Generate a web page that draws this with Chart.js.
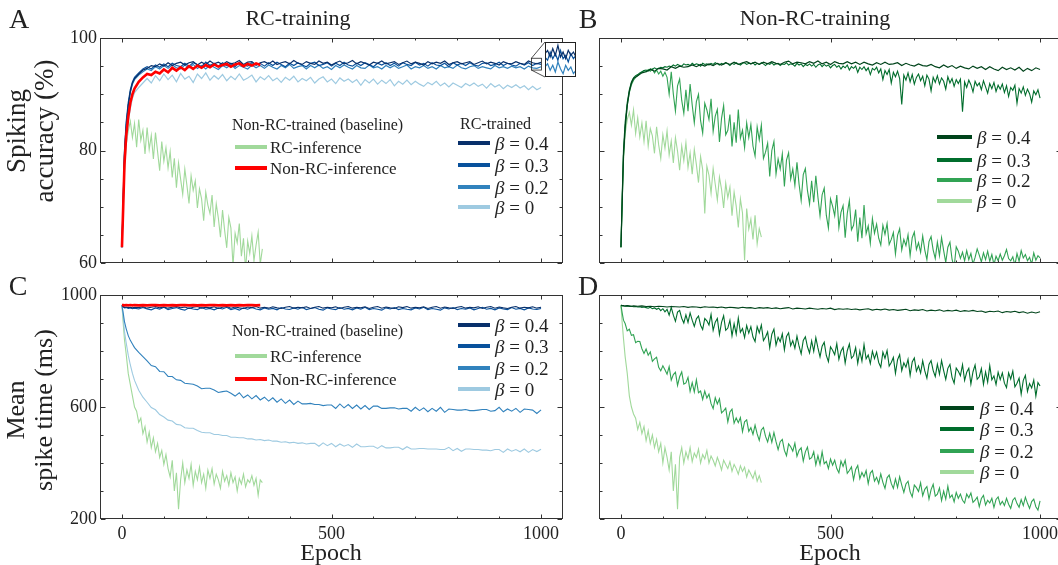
<!DOCTYPE html>
<html>
<head>
<meta charset="utf-8">
<script src="https://cdn.jsdelivr.net/npm/chart.js"></script>
<style>
  body { margin: 0; width: 1058px; height: 565px; overflow: hidden; position: relative; background: #fff;
         font-family: 'Liberation Serif', serif; color: #222; }
  canvas { position: absolute; }
  .t { position: absolute; white-space: nowrap; line-height: 1; }
  .sw { position: absolute; height: 4px; }
</style>
</head>
<body>
<canvas id="cA" width="590" height="280" style="left:0;top:0"></canvas>
<canvas id="cB" width="480" height="280" style="left:590px;top:0"></canvas>
<canvas id="cC" width="590" height="285" style="left:0;top:280px"></canvas>
<canvas id="cD" width="480" height="285" style="left:590px;top:280px"></canvas>
<canvas id="cInset" width="31" height="35" style="left:545px;top:42px;background:#fff"></canvas>
<script>
// coarse epoch grid (smooth curves; short curves stop at 330)
const epochs = [0, 3, 6, 10, 15, 20, 25, 30,
  40, 50, 60, 70, 80, 90, 100, 110, 120, 130,
  140, 150, 160, 170, 180, 190, 200, 210, 220, 230,
  240, 250, 260, 270, 280, 290, 300, 310, 320, 330,
  340, 350, 360, 370, 380, 390, 400, 410, 420, 430,
  440, 450, 460, 470, 480, 490, 500, 510, 520, 530,
  540, 550, 560, 570, 580, 590, 600, 610, 620, 630,
  640, 650, 660, 670, 680, 690, 700, 710, 720, 730,
  740, 750, 760, 770, 780, 790, 800, 810, 820, 830,
  840, 850, 860, 870, 880, 890, 900, 910, 920, 930,
  940, 950, 960, 970, 980, 990, 1000];

// fine epoch grid (noisy curves; short curves stop at 335)
const fineEpochs = [0, 3, 6,
  10, 15, 20, 25, 30, 35, 40, 45, 50, 55, 60, 65, 70, 75, 80, 85, 90, 95, 100, 105,
  110, 115, 120, 125, 130, 135, 140, 145, 150, 155, 160, 165, 170, 175, 180, 185, 190, 195, 200, 205,
  210, 215, 220, 225, 230, 235, 240, 245, 250, 255, 260, 265, 270, 275, 280, 285, 290, 295, 300, 305,
  310, 315, 320, 325, 330, 335, 340, 345, 350, 355, 360, 365, 370, 375, 380, 385, 390, 395, 400, 405,
  410, 415, 420, 425, 430, 435, 440, 445, 450, 455, 460, 465, 470, 475, 480, 485, 490, 495, 500, 505,
  510, 515, 520, 525, 530, 535, 540, 545, 550, 555, 560, 565, 570, 575, 580, 585, 590, 595, 600, 605,
  610, 615, 620, 625, 630, 635, 640, 645, 650, 655, 660, 665, 670, 675, 680, 685, 690, 695, 700, 705,
  710, 715, 720, 725, 730, 735, 740, 745, 750, 755, 760, 765, 770, 775, 780, 785, 790, 795, 800, 805,
  810, 815, 820, 825, 830, 835, 840, 845, 850, 855, 860, 865, 870, 875, 880, 885, 890, 895, 900, 905,
  910, 915, 920, 925, 930, 935, 940, 945, 950, 955, 960, 965, 970, 975, 980, 985, 990, 995, 1000];

const xMajorTicks = [0, 500, 1000];
const xMinorTicks = [0, 100, 200, 300, 400, 500, 600, 700, 800, 900, 1000];
const accMajorTicks = [60, 80, 100];
const accMinorTicks = [60, 65, 70, 75, 80, 85, 90, 95, 100];
const stMajorTicks = [200, 600, 1000];
const stMinorTicks = [200, 300, 400, 500, 600, 700, 800, 900, 1000];

// ---- A: spiking accuracy, RC-training (coarse grid) ----
const accRC04 = [62.8, 71, 79, 84, 88, 90.5, 92, 92.8,
  93.6, 94.3, 94.6, 95.1, 94.9, 95.4, 95.0, 95.6, 95.1, 95.5,
  95.7, 95.2, 95.6, 95.8, 95.2, 95.7, 95.3, 95.9, 95.4, 95.7,
  95.3, 95.8, 95.4, 95.6, 96.0, 95.3, 95.7, 95.8, 95.2, 95.6,
  95.8, 95.4, 95.9, 95.3, 95.6, 95.8, 95.4, 96.0, 95.5, 95.3,
  95.8, 95.5, 95.3, 95.9, 95.5, 95.7, 95.2, 95.6, 95.9, 95.4,
  95.6, 96.0, 95.4, 95.8, 95.5, 95.2, 95.7, 95.5, 95.9, 95.4,
  95.6, 95.8, 95.3, 95.6, 95.9, 95.4, 95.7, 95.5, 95.2, 95.8,
  95.4, 95.7, 95.5, 95.9, 95.3, 95.6, 95.8, 95.4, 95.6, 95.8,
  95.3, 95.6, 95.9, 95.4, 95.7, 95.5, 95.2, 95.8, 95.5, 95.4,
  95.8, 95.5, 95.3, 95.9, 95.6, 95.4, 95.7];
const accRC03 = [62.8, 72, 80, 85, 88.5, 90.8, 92.2, 93.0,
  93.8, 94.5, 94.9, 94.5, 95.2, 94.8, 95.4, 94.9, 95.5, 95.1,
  94.9, 95.5, 95.0, 95.6, 95.3, 94.9, 95.7, 95.1, 95.5, 95.0,
  95.6, 95.1, 95.5, 94.9, 95.7, 95.2, 95.0, 95.6, 95.2, 95.5,
  95.0, 95.6, 95.1, 95.7, 95.3, 94.9, 95.5, 95.1, 95.6, 95.2,
  94.9, 95.5, 95.7, 95.1, 95.3, 95.6, 95.0, 95.5, 95.1, 95.7,
  95.2, 95.0, 95.5, 95.1, 95.6, 95.3, 94.9, 95.5, 95.2, 95.6,
  95.1, 95.5, 95.0, 95.6, 95.3, 95.1, 95.7, 95.2, 95.5, 95.0,
  95.6, 95.2, 95.1, 95.5, 94.9, 95.6, 95.2, 95.5, 95.1, 95.6,
  95.2, 95.0, 95.5, 95.6, 95.1, 95.3, 95.7, 95.1, 95.5, 95.2,
  95.0, 95.5, 95.2, 95.6, 95.1, 95.5, 95.3];
const accRC02 = [62.8, 71, 79.5, 84.5, 88, 90.3, 91.8, 92.6,
  93.4, 94.0, 94.5, 94.2, 94.9, 94.5, 95.1, 94.6, 95.2, 94.7,
  94.5, 95.2, 94.7, 95.3, 94.6, 95.1, 94.5, 95.2, 94.8, 94.4,
  95.1, 94.7, 95.3, 94.6, 95.1, 94.8, 94.5, 95.2, 94.7, 95.1,
  94.6, 95.2, 94.8, 94.5, 95.1, 94.7, 95.3, 94.6, 94.9, 95.1,
  94.5, 95.1, 94.7, 95.2, 94.6, 94.9, 94.4, 95.1, 94.7, 95.2,
  94.8, 94.5, 95.1, 94.7, 94.6, 95.2, 94.7, 94.9, 94.5, 95.1,
  94.7, 95.1, 94.6, 94.9, 95.2, 94.5, 94.9, 94.7, 95.1, 94.6,
  94.9, 94.5, 95.1, 94.7, 94.9, 94.6, 95.2, 94.7, 94.5, 94.9,
  95.1, 94.6, 94.9, 94.7, 94.5, 95.1, 94.7, 94.9, 94.6, 95.0,
  94.7, 94.9, 94.5, 95.0, 94.7, 94.6, 94.9];
const accRC00 = [62.8, 70, 77, 81, 85, 87.5, 89.3, 90.3,
  91.2, 92.0, 92.8, 92.0, 93.3, 92.4, 93.6, 92.6, 93.4, 92.2,
  93.7, 92.7, 93.2, 92.1, 93.6, 92.8, 93.8, 92.5, 93.3, 92.7,
  93.5, 92.4, 93.2, 92.6, 93.6, 92.5, 92.9, 93.4, 92.2, 93.1,
  92.6, 93.3, 92.4, 92.9, 92.1, 93.0, 92.5, 93.2, 92.2, 92.8,
  92.4, 93.0, 92.0, 92.7, 93.1, 92.2, 92.7, 91.9, 92.9, 92.3,
  92.7, 92.1, 92.6, 91.6, 92.6, 92.0, 92.7, 91.8, 92.5, 91.9,
  92.6, 91.5, 92.3, 91.8, 92.5, 91.7, 92.3, 91.8, 91.4, 92.1,
  91.7, 92.3, 91.5, 92.0, 91.3, 92.0, 91.6, 91.2, 91.9, 91.5,
  92.0, 91.4, 91.8, 91.1, 91.9, 91.3, 91.7, 91.0, 91.6, 91.2,
  91.7, 91.1, 91.5, 90.8, 91.4, 90.8, 91.2];
const accBaseNonRCInf = [62.8, 70, 77.5, 82.5, 86, 88.5, 90, 91,
  92.2, 93.0, 93.6, 93.4, 94.0, 93.7, 94.4, 93.9, 94.7, 94.2,
  94.8, 94.3, 95.0, 94.5, 95.1, 94.7, 95.2, 94.8, 95.3, 94.9,
  95.2, 95.4, 94.9, 95.3, 95.5, 95.0, 95.4, 95.1, 95.5, 95.2];
// RC-inference of the baseline network (fine grid)
const accBaseRCInf = [62.8, 70, 76,
  81, 83.5, 85.2, 82.3, 84.8, 80.6, 85.5, 81.8, 83.6, 79.4, 84.1, 80.2, 82.7, 78.5, 83.2, 79.8, 76.4, 81.6, 78.1, 80.5,
  76.9, 79.8, 75.2, 78.6, 73.4, 77.8, 74.9, 72.2, 76.7, 73.8, 70.6, 75.5, 72.9, 74.6, 69.8, 73.2, 71.4, 67.5, 72.6, 70.3,
  68.8, 72.1, 66.4, 70.5, 68.0, 64.6, 69.4, 65.8, 62.7, 68.1, 66.2, 59.5, 65.3, 63.6, 67.0, 61.2, 64.4, 58.8, 63.9, 61.7,
  64.8, 60.4, 63.2, 65.5, 59.8, 62.5];

// inset of A (last epochs)
const insetEpochs = [977, 979, 981, 983, 985, 987, 989, 991, 993, 995, 997, 999, 1001];
const inset04 = [95.7, 95.9, 95.5, 96.0, 95.6, 96.2, 95.5, 95.8, 95.4, 95.9, 95.6, 95.8, 95.5];
const inset03 = [95.5, 95.3, 95.8, 95.4, 95.7, 95.3, 95.9, 95.4, 95.6, 95.2, 95.7, 95.4, 95.6];
const inset02 = [94.9, 95.1, 94.7, 95.0, 94.6, 95.2, 94.8, 94.5, 95.0, 94.7, 94.9, 94.5, 94.7];

// ---- B: spiking accuracy, non-RC-training ----
const accNon04 = [62.8, 71, 79, 84, 88, 90.5, 92, 92.8,
  93.3, 93.8, 94.0, 94.4, 94.1, 94.6, 94.5, 94.3, 94.9, 94.6,
  95.0, 94.8, 94.9, 95.2, 94.9, 95.3, 95.0, 95.4, 95.1, 95.5,
  95.2, 95.6, 95.3, 95.7, 95.3, 95.6, 95.8, 95.4, 95.7, 95.3,
  95.7, 95.4, 95.8, 95.5, 95.3, 95.7, 95.9, 95.4, 95.7, 95.6,
  95.4, 95.8, 95.5, 95.9, 95.4, 95.7, 95.3, 95.8, 95.5, 95.4,
  95.8, 95.4, 95.7, 95.3, 95.7, 95.4, 95.2, 95.6, 95.3, 95.7,
  95.3, 95.4, 95.6, 95.1, 95.5, 95.2, 95.0, 95.4, 95.1, 95.0,
  95.3, 94.9, 94.7, 95.2, 94.8, 95.1, 94.6, 95.0, 94.7, 94.5,
  95.0, 94.6, 94.9, 94.4, 94.9, 94.5, 94.2, 94.8, 94.4, 94.7,
  94.3, 94.8, 94.1, 94.6, 94.2, 94.7, 94.4];
const accNon03 = [62.8, 72, 80,
  85, 88.5, 90.8, 92.2, 92.9, 93.3, 93.5, 93.8, 94.0, 94.2, 94.3, 94.1, 94.5, 94.4, 94.7, 94.5, 94.6, 94.8, 94.7, 94.9,
  94.8, 95.0, 94.9, 95.2, 95.0, 95.3, 95.1, 95.0, 95.4, 95.2, 95.3, 95.1, 95.5, 95.2, 95.4, 95.3, 95.0, 95.5, 95.3, 95.4,
  95.2, 95.5, 95.3, 95.6, 95.4, 95.2, 95.5, 95.3, 95.6, 95.4, 95.1, 95.5, 95.3, 95.6, 95.4, 95.2, 95.5, 95.6, 95.3, 95.5,
  95.4, 95.6, 95.2, 95.5, 95.3, 95.6, 95.4, 95.1, 95.5, 95.3, 95.6, 95.2, 95.4, 95.5, 95.1, 95.4, 95.3, 95.6, 95.2, 95.4,
  95.3, 95.0, 95.5, 95.2, 95.4, 94.9, 95.3, 95.1, 95.4, 95.0, 95.3, 94.8, 95.2, 95.4, 94.9, 95.3, 95.0, 95.2, 94.7, 95.1,
  95.3, 94.8, 95.1, 94.5, 95.0, 94.7, 95.2, 94.3, 94.9, 94.6, 95.0, 93.9, 94.8, 94.4, 94.9, 94.2, 94.7, 93.5, 94.6, 94.3,
  94.8, 93.8, 94.5, 92.6, 94.2, 93.5, 94.4, 92.0, 93.9, 93.1, 94.1, 92.8, 88.2, 93.4, 92.5, 93.8, 92.2, 93.5, 91.8, 93.0,
  93.6, 92.4, 93.2, 91.5, 93.4, 92.7, 90.6, 93.0, 92.1, 93.3, 91.8, 92.9, 92.3, 90.9, 93.1, 92.0, 92.8, 91.4, 92.6, 91.9,
  92.7, 86.9, 92.2, 91.2, 92.5, 91.7, 90.4, 92.3, 91.5, 92.0, 90.8, 92.4, 91.3, 90.2, 91.9, 91.0, 92.1, 90.5, 91.6, 90.9,
  91.8, 90.3, 91.5, 89.6, 91.2, 90.7, 91.6, 88.4, 91.0, 90.2, 91.3, 89.8, 90.9, 90.1, 88.6, 90.6, 89.9, 90.8, 89.3];
const accNon02 = [62.8, 71, 79,
  84, 88, 90.3, 91.7, 92.5, 93.0, 93.3, 93.7, 93.9, 94.2, 94.0, 94.4, 94.1, 94.5, 93.8, 94.3, 93.6, 94.1, 93.2, 93.9,
  93.0, 90.0, 94.0, 90.0, 87.0, 91.5, 92.7, 88.9, 86.6, 90.8, 87.0, 91.8, 88.1, 84.9, 88.7, 90.0, 85.3, 83.1, 88.4, 87.2,
  85.5, 89.2, 83.4, 86.1, 87.3, 81.5, 85.7, 88.0, 82.8, 83.6, 86.4, 80.7, 85.0, 81.4, 87.3, 82.2, 83.6, 80.5, 84.9, 82.3,
  84.6, 80.8, 79.0, 84.2, 81.9, 84.5, 78.6, 79.7, 81.3, 75.4, 80.0, 81.6, 75.8, 78.5, 76.7, 79.4, 73.6, 78.3, 79.6, 74.9,
  76.7, 73.8, 77.9, 74.0, 71.1, 75.7, 76.8, 72.9, 70.5, 74.6, 70.8, 75.5, 71.7, 68.4, 72.1, 73.3, 68.5, 66.2, 71.4, 70.1,
  68.4, 72.1, 66.3, 69.0, 70.2, 64.5, 68.8, 71.1, 65.9, 66.7, 69.5, 63.8, 68.1, 64.4, 70.3, 65.2, 66.6, 63.5, 67.9, 65.3,
  66.9, 64.4, 63.2, 66.7, 65.1, 67.0, 63.3, 64.2, 65.4, 61.6, 64.9, 66.1, 62.3, 64.2, 63.1, 65.0, 61.3, 64.5, 65.5, 62.4,
  63.6, 61.9, 64.8, 62.3, 60.6, 63.8, 64.7, 62.3, 60.8, 63.7, 61.3, 64.5, 62.2, 60.1, 62.8, 63.7, 60.7, 59.2, 62.9, 62.1,
  60.8, 61.9, 60.4, 62.2, 60.6, 61.7, 59.8, 61.0, 62.5, 61.4, 60.2, 61.8, 60.6, 62.1, 60.3, 61.5, 59.7, 61.2, 60.4, 61.6,
  60.5, 61.3, 62.4, 60.8, 60.4, 61.1, 59.6, 61.7, 60.3, 62.2, 60.9, 61.5, 60.4, 61.0, 59.8, 61.8, 60.5, 61.3, 60.9];
const accNon00 = [62.8, 71, 78,
  83, 85.5, 86.8, 84.5, 87.2, 83.0, 85.8, 82.4, 84.9, 81.6, 85.3, 80.8, 83.9, 82.6, 79.5, 84.2, 81.0, 78.6, 82.8, 80.4,
  83.5, 79.2, 81.7, 77.8, 82.3, 79.9, 76.5, 80.8, 78.2, 81.4, 77.0, 79.6, 75.8, 80.2, 77.5, 74.3, 78.9, 76.6, 68.8, 77.2,
  75.6, 72.4, 76.8, 74.0, 71.2, 75.3, 73.1, 69.8, 74.2, 71.6, 73.5, 68.4, 72.6, 70.1, 66.3, 71.4, 68.9, 60.5, 69.7, 66.0,
  67.8, 64.2, 68.5, 63.4, 66.1, 64.6];

// ---- C: mean spike time, RC-training ----
const stRC04 = [963, 959, 956, 957, 955, 956, 954, 956,
  955, 958, 953, 956, 959, 954, 957, 953, 956, 959,
  954, 957, 952, 956, 959, 953, 956, 954, 958, 952,
  956, 959, 953, 957, 954, 952, 957, 955, 959, 953,
  956, 953, 958, 954, 952, 956, 959, 953, 956, 954,
  958, 952, 956, 959, 953, 956, 954, 958, 952, 956,
  959, 953, 956, 954, 958, 952, 956, 959, 953, 957,
  954, 952, 958, 955, 959, 953, 956, 954, 958, 952,
  956, 959, 953, 957, 954, 952, 956, 959, 953, 956,
  954, 958, 952, 956, 959, 953, 957, 954, 952, 956,
  959, 953, 956, 954, 958, 953, 956];
const stRC03 = [963, 958, 954, 955, 952, 954, 951, 953,
  950, 955, 950, 947, 954, 949, 956, 948, 952, 955,
  949, 946, 954, 950, 948, 955, 949, 952, 947, 954,
  950, 956, 948, 952, 946, 954, 949, 955, 950, 947,
  954, 949, 952, 947, 955, 950, 948, 954, 949, 956,
  948, 952, 955, 949, 946, 954, 950, 948, 955, 949,
  952, 947, 954, 949, 956, 948, 952, 949, 946, 954,
  950, 955, 948, 952, 949, 947, 954, 950, 956, 948,
  952, 949, 946, 954, 950, 955, 948, 952, 949, 954,
  947, 952, 956, 949, 952, 947, 954, 950, 948, 955,
  949, 952, 947, 954, 950, 948, 952];
const stRC02 = [963, 935, 905, 880, 855, 838, 825, 812,
  795, 780, 765, 748, 744, 727, 726, 709, 709, 697,
  695, 685, 683, 681, 675, 665, 667, 667, 661, 652,
  655, 657, 649, 639, 651, 633, 643, 629, 641, 625,
  635, 621, 633, 617, 629, 613, 625, 609, 621, 611,
  611, 613, 609, 609, 605, 607, 607, 595, 611, 597,
  609, 595, 607, 593, 605, 591, 603, 603, 595, 595,
  597, 597, 593, 595, 595, 585, 599, 587, 597, 583,
  595, 585, 599, 581, 593, 591, 589, 589, 591, 587,
  587, 589, 591, 591, 585, 587, 599, 583, 593, 585,
  595, 581, 593, 591, 589, 577, 590];
const stRC00 = [963, 920, 870, 830, 785, 750, 720, 695,
  660, 635, 617, 598, 590, 573, 564, 553, 550, 538,
  536, 526, 524, 524, 516, 510, 508, 508, 502, 502,
  498, 498, 492, 492, 490, 490, 486, 486, 482, 484,
  480, 482, 478, 478, 474, 476, 472, 474, 470, 472,
  468, 470, 470, 460, 472, 462, 470, 458, 468, 460,
  466, 456, 468, 458, 458, 460, 460, 452, 462, 454,
  454, 456, 456, 448, 458, 450, 450, 452, 452, 450,
  450, 450, 448, 448, 456, 444, 452, 442, 450, 450,
  448, 448, 446, 446, 444, 448, 448, 438, 450, 442,
  448, 440, 450, 438, 448, 441, 449];
const stBaseNonRCInf = [964, 964, 963, 964, 963, 964, 963, 964,
  963, 964, 963, 964, 964, 963, 964, 963, 964, 963,
  964, 964, 963, 964, 963, 964, 963, 964, 964, 963,
  964, 963, 964, 963, 964, 963, 964, 964, 963, 964];
const stBaseRCInf = [963, 900, 840,
  790, 720, 680, 640, 600, 585, 545, 560, 505, 530, 475, 510, 455, 490, 440, 470, 420, 445, 395, 430,
  380, 350, 410, 300, 365, 235, 340, 400, 330, 375, 345, 395, 320, 370, 340, 385, 330, 360, 310, 375,
  345, 380, 325, 360, 340, 310, 370, 335, 355, 320, 365, 330, 350, 300, 345, 325, 360, 315, 340, 330,
  355, 320, 345, 285, 340, 330];

// ---- D: mean spike time, non-RC-training ----
const stNon04 = [963, 962, 962, 961, 962, 961, 960, 961,
  960, 961, 959, 960, 958, 960, 959, 957, 959, 958,
  957, 959, 956, 958, 957, 955, 958, 956, 957, 955,
  957, 954, 956, 955, 953, 956, 954, 955, 952, 955,
  953, 955, 952, 954, 951, 953, 955, 950, 953, 952,
  950, 953, 951, 949, 952, 950, 953, 948, 951, 949,
  951, 948, 950, 947, 949, 951, 946, 949, 947, 950,
  946, 948, 945, 947, 949, 944, 947, 945, 948, 943,
  946, 944, 947, 942, 945, 943, 946, 941, 944, 942,
  945, 941, 943, 938, 942, 940, 943, 937, 941, 939,
  942, 937, 940, 935, 939, 936, 940];
const stNon03 = [963, 962, 961,
  960, 961, 959, 960, 958, 959, 957, 958, 956, 957, 955, 953, 956, 951, 954, 949, 953, 944, 951, 940,
  949, 928, 956, 928, 906, 939, 945, 917, 900, 929, 902, 936, 910, 888, 915, 925, 892, 877, 916, 908,
  893, 931, 874, 903, 916, 859, 902, 926, 874, 882, 910, 854, 897, 860, 918, 867, 880, 848, 891, 864,
  887, 850, 834, 887, 865, 893, 837, 850, 868, 811, 860, 878, 821, 849, 833, 861, 804, 852, 865, 819,
  837, 810, 853, 817, 790, 838, 851, 815, 793, 836, 799, 848, 811, 779, 817, 831, 784, 762, 815, 803,
  787, 826, 770, 799, 813, 757, 801, 825, 774, 783, 812, 756, 800, 764, 823, 772, 786, 755, 799, 773,
  796, 759, 742, 796, 774, 802, 746, 759, 777, 720, 769, 787, 730, 758, 742, 770, 713, 761, 775, 728,
  747, 721, 765, 729, 703, 752, 766, 730, 709, 753, 717, 766, 730, 699, 738, 752, 706, 685, 739, 728,
  712, 751, 695, 724, 738, 682, 726, 750, 699, 708, 737, 681, 725, 689, 748, 697, 711, 680, 724, 698,
  722, 685, 669, 722, 700, 728, 672, 685, 703, 646, 695, 713, 656, 684, 668, 696, 639, 687, 675];
const stNon02 = [963, 935, 910,
  898, 872, 878, 856, 858, 830, 835, 834, 808, 791, 807, 785, 797, 763, 772, 778, 742, 729, 747, 733,
  717, 744, 696, 716, 724, 677, 708, 725, 682, 686, 706, 656, 687, 654, 697, 651, 657, 627, 657, 632,
  646, 612, 594, 633, 611, 629, 579, 586, 596, 547, 582, 592, 542, 561, 544, 562, 512, 547, 554, 513,
  526, 502, 535, 504, 481, 518, 527, 495, 475, 506, 474, 509, 476, 448, 476, 484, 445, 426, 468, 458,
  442, 471, 424, 445, 454, 407, 440, 457, 414, 419, 440, 393, 426, 395, 440, 397, 406, 380, 414, 392,
  410, 380, 365, 407, 388, 410, 363, 373, 386, 340, 377, 391, 344, 366, 351, 373, 326, 364, 373, 335,
  349, 327, 361, 331, 309, 347, 357, 327, 309, 343, 313, 351, 321, 295, 325, 335, 297, 279, 321, 312,
  298, 329, 283, 306, 316, 271, 305, 324, 282, 289, 311, 266, 300, 271, 317, 276, 286, 261, 295, 274,
  289, 267, 257, 289, 276, 293, 259, 267, 278, 244, 273, 284, 250, 267, 257, 274, 241, 270, 279, 251,
  263, 248, 274, 253, 238, 267, 276, 255, 242, 269, 248, 278, 256, 238, 262, 271, 244, 232, 265];
const stNon00 = [963, 900, 845,
  780, 720, 640, 600, 575, 560, 520, 545, 505, 530, 480, 515, 470, 500, 455, 485, 440, 470, 400, 455,
  420, 375, 440, 300, 395, 235, 420, 455, 400, 440, 415, 455, 405, 435, 420, 450, 400, 430, 415, 445,
  400, 425, 410, 390, 420, 400, 375, 410, 395, 380, 405, 370, 395, 380, 360, 390, 370, 385, 350, 375,
  360, 345, 370, 335, 355, 330];

const blues = ['#08306b', '#08519c', '#3182bd', '#9ecae1'];
const greens = ['#00441b', '#006d2c', '#31a354', '#a1d99b'];
const baseGreen = '#a1d99b';
const baseRed = '#ff0000';

Chart.defaults.font.family = "'Liberation Serif', serif";
Chart.defaults.color = '#222';

function pts(xs, ys) { return ys.map((y, i) => ({ x: xs[i], y: y })); }
function line(ys, color, width, xs) {
  return { data: pts(xs || epochs, ys), borderColor: color, borderWidth: width || 1.1,
           pointRadius: 0, fill: false, tension: 0 };
}

// box + inward ticks on all four sides
const frameTicks = {
  id: 'frameTicks',
  afterDatasetsDraw(chart, args, o) {
    const { ctx, chartArea: a, scales } = chart;
    ctx.save();
    ctx.strokeStyle = '#333';
    ctx.lineWidth = 1;
    ctx.strokeRect(a.left - 0.5, a.top + 0.5, a.width + 1, a.height - 1);
    ctx.beginPath();
    const tick = (vals, len) => {
      vals.forEach(v => {
        const px = Math.round(scales.x.getPixelForValue(v)) + 0.5;
        ctx.moveTo(px, a.bottom); ctx.lineTo(px, a.bottom - len);
        ctx.moveTo(px, a.top); ctx.lineTo(px, a.top + len);
      });
    };
    const ytick = (vals, len) => {
      vals.forEach(v => {
        const py = Math.round(scales.y.getPixelForValue(v)) + 0.5;
        ctx.moveTo(a.left, py); ctx.lineTo(a.left + len, py);
        ctx.moveTo(a.right, py); ctx.lineTo(a.right - len, py);
      });
    };
    tick(o.xMinor, 2.5); tick(o.xMajor, 4.5);
    ytick(o.yMinor, 2.5); ytick(o.yMajor, 4.5);
    ctx.stroke();
    ctx.restore();
  }
};

// little rectangle marking the zoomed region in A and the two connector lines
const insetMark = {
  id: 'insetMark',
  afterDatasetsDraw(chart) {
    const { ctx, scales } = chart;
    const x1 = scales.x.getPixelForValue(insetEpochs[0]);
    const x2 = scales.x.getPixelForValue(insetEpochs[insetEpochs.length - 1]);
    const y1 = scales.y.getPixelForValue(96.4);
    const y2 = scales.y.getPixelForValue(94.3);
    ctx.save();
    ctx.strokeStyle = '#222';
    ctx.lineWidth = 0.8;
    ctx.strokeRect(x1, y1, x2 - x1, y2 - y1);
    ctx.beginPath();
    ctx.moveTo(x1, y1); ctx.lineTo(545, 42);
    ctx.moveTo(x1, y2); ctx.lineTo(545, 77);
    ctx.stroke();
    ctx.restore();
  }
};

function makePanel(id, o) {
  return new Chart(document.getElementById(id), {
    type: 'line',
    data: { datasets: o.datasets },
    plugins: o.extra ? [frameTicks, o.extra] : [frameTicks],
    options: {
      responsive: false, animation: false, events: [],
      layout: { padding: { top: o.padTop, right: o.padRight, left: 0, bottom: 0 } },
      plugins: {
        legend: { display: false }, tooltip: { enabled: false },
        frameTicks: { xMajor: xMajorTicks, xMinor: xMinorTicks, yMajor: o.yMajor, yMinor: o.yMinor }
      },
      scales: {
        x: {
          type: 'linear', min: -50, max: 1050,
          grid: { display: false, drawTicks: false }, border: { display: false },
          ticks: { display: o.showX, padding: 4, font: { size: 18 }, color: '#222', callback: v => String(v) },
          afterBuildTicks: s => { s.ticks = xMajorTicks.map(v => ({ value: v })); },
          afterFit: s => { s.height = o.xHeight; }
        },
        y: {
          type: 'linear', min: o.yMin, max: o.yMax,
          grid: { display: false, drawTicks: false }, border: { display: false },
          ticks: { display: o.showY, padding: 4, font: { size: 18 }, color: '#222', callback: v => String(v) },
          afterBuildTicks: s => { s.ticks = o.yMajor.map(v => ({ value: v })); },
          afterFit: s => { s.width = o.yWidth; }
        }
      }
    }
  });
}

makePanel('cA', {
  padTop: 38, padRight: 28, yWidth: 101, xHeight: 17, showX: false, showY: true,
  yMin: 60, yMax: 100, yMajor: accMajorTicks, yMinor: accMinorTicks, extra: insetMark,
  datasets: [
    line(accBaseNonRCInf, baseRed, 2.6),
    line(accRC04, blues[0], 1.2), line(accRC03, blues[1], 1.2), line(accRC02, blues[2], 1.2), line(accRC00, blues[3], 1.2),
    line(accBaseRCInf, baseGreen, 1.1, fineEpochs)
  ]
});
makePanel('cB', {
  padTop: 38, padRight: 9, yWidth: 10, xHeight: 17, showX: false, showY: false,
  yMin: 60, yMax: 100, yMajor: accMajorTicks, yMinor: accMinorTicks,
  datasets: [
    line(accNon04, greens[0], 1.2), line(accNon03, greens[1], 1.1, fineEpochs),
    line(accNon02, greens[2], 1.1, fineEpochs), line(accNon00, greens[3], 1.1, fineEpochs)
  ]
});
makePanel('cC', {
  padTop: 15, padRight: 28, yWidth: 101, xHeight: 46, showX: true, showY: true,
  yMin: 200, yMax: 1000, yMajor: stMajorTicks, yMinor: stMinorTicks,
  datasets: [
    line(stBaseNonRCInf, baseRed, 2.6),
    line(stRC04, blues[0]), line(stRC03, blues[1]), line(stRC02, blues[2]), line(stRC00, blues[3]),
    line(stBaseRCInf, baseGreen, 1.1, fineEpochs)
  ]
});
makePanel('cD', {
  padTop: 15, padRight: 9, yWidth: 10, xHeight: 46, showX: true, showY: false,
  yMin: 200, yMax: 1000, yMajor: stMajorTicks, yMinor: stMinorTicks,
  datasets: [
    line(stNon04, greens[0]), line(stNon03, greens[1], 1.1, fineEpochs),
    line(stNon02, greens[2], 1.1, fineEpochs), line(stNon00, greens[3], 1.1, fineEpochs)
  ]
});

// inset zoom of the RC-trained curves near epoch 1000
new Chart(document.getElementById('cInset'), {
  type: 'line',
  data: { datasets: [line(inset04, blues[0], 1.2, insetEpochs), line(inset03, blues[1], 1.2, insetEpochs),
                     line(inset02, blues[2], 1.2, insetEpochs)] },
  plugins: [{
    id: 'insetBox',
    afterDatasetsDraw(chart) {
      const c = chart.ctx;
      c.save(); c.strokeStyle = '#222'; c.lineWidth = 1;
      c.strokeRect(0.5, 0.5, chart.width - 1, chart.height - 1);
      c.restore();
    }
  }],
  options: {
    responsive: false, animation: false, events: [],
    layout: { padding: 0 },
    plugins: { legend: { display: false }, tooltip: { enabled: false } },
    scales: {
      x: { type: 'linear', display: false, min: insetEpochs[0], max: insetEpochs[insetEpochs.length - 1] },
      y: { display: false, min: 94.3, max: 96.4 }
    }
  }
});

// ---- text: letters, titles, axis labels, legends ----
function text(html, x, y, size, opts) {
  opts = opts || {};
  const d = document.createElement('div');
  d.className = 't';
  d.innerHTML = html;
  d.style.left = x + 'px';
  d.style.top = y + 'px';
  d.style.fontSize = size + 'px';
  d.style.transform = opts.center ? 'translate(-50%,-50%)' : 'translateY(-50%)';
  if (opts.rot) {
    d.style.transform = 'translate(-50%,-50%) rotate(-90deg)';
    d.style.textAlign = 'center';
    d.style.lineHeight = opts.lh + 'px';
  }
  document.body.appendChild(d);
}
function swatch(x1, x2, y, color) {
  const s = document.createElement('div');
  s.className = 'sw';
  s.style.left = x1 + 'px';
  s.style.width = (x2 - x1) + 'px';
  s.style.top = (y - 2) + 'px';
  s.style.background = color;
  document.body.appendChild(s);
}

text('A', 19, 19, 28, { center: true });
text('B', 588, 19, 28, { center: true });
text('C', 18, 286, 28, { center: true });
text('D', 588, 286, 28, { center: true });
text('RC-training', 298, 18, 22, { center: true });
text('Non-RC-training', 815, 18, 22, { center: true });
text('Spiking<br>accuracy (%)', 30, 131, 27, { rot: true, lh: 28 });
text('Mean<br>spike time (ms)', 30, 410, 26, { rot: true, lh: 28 });
text('Epoch', 331, 552, 24, { center: true });
text('Epoch', 830, 552, 24, { center: true });

const betaLabels = ['<i>β</i> = 0.4', '<i>β</i> = 0.3', '<i>β</i> = 0.2', '<i>β</i> = 0'];

function baselineLegend(yHead, yGreen, yRed) {
  text('Non-RC-trained (baseline)', 232, yHead, 16);
  swatch(235, 267, yGreen, baseGreen);
  text('RC-inference', 270, yGreen, 17);
  swatch(235, 267, yRed, baseRed);
  text('Non-RC-inference', 270, yRed, 17);
}
function betaLegend(colors, x1, x2, tx, ys) {
  ys.forEach((y, i) => {
    swatch(x1, x2, y, colors[i]);
    text(betaLabels[i], tx, y, 19);
  });
}

baselineLegend(125, 147, 168);
text('RC-trained', 460, 124, 16);
betaLegend(blues, 458, 490, 495, [143, 165, 187, 207]);

baselineLegend(331, 356, 379);
betaLegend(blues, 458, 490, 495, [325, 346, 368, 389]);

betaLegend(greens, 937, 972, 977, [137, 160, 180, 201]);
betaLegend(greens, 940, 974, 980, [408, 429, 451, 472]);
</script>
</body>
</html>
